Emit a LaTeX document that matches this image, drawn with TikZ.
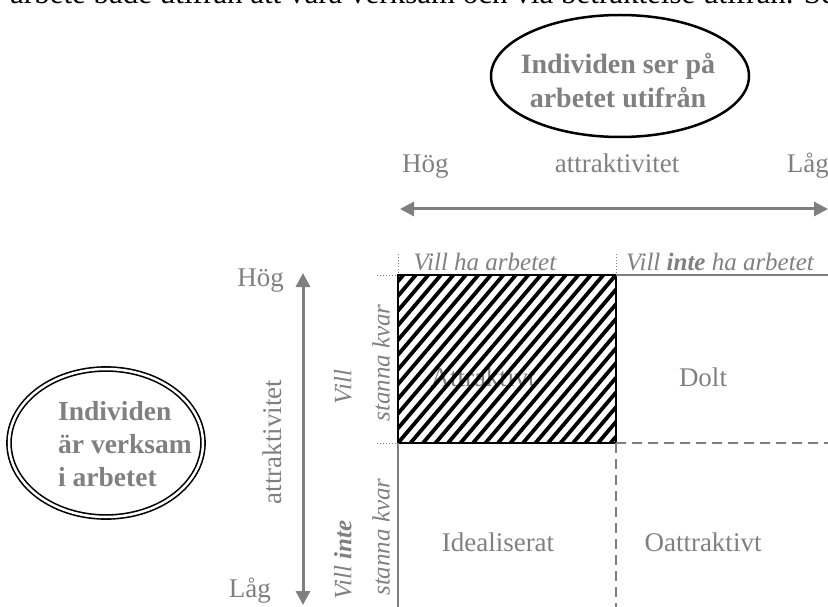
\documentclass[tikz,border=0pt]{standalone}
\usepackage{fontspec}
\setmainfont{Liberation Serif}
\usetikzlibrary{arrows.meta,shapes.geometric}
\definecolor{txtgray}{HTML}{808080}
\definecolor{linegray}{HTML}{7F7F7F}
\begin{document}
\begin{tikzpicture}[x=1pt,y=-1pt,
  lbl/.style={text=txtgray, inner sep=0pt, font=\fontsize{27}{30}\selectfont},
  head/.style={text=txtgray, inner sep=0pt, font=\itshape\fontsize{25}{28}\selectfont},
  bubble/.style={draw=black, ellipse, inner sep=0pt},
  bubbletext/.style={text=txtgray, inner sep=0pt},
  axis/.style={draw=linegray, line width=3pt, {Triangle[length=14pt,width=14pt]}-{Triangle[length=14pt,width=14pt]}},
  grayline/.style={draw=linegray, line width=2pt},
  grid/.style={draw=linegray, line width=2pt, dash pattern=on 10pt off 6pt},
  guide/.style={draw=linegray, line width=1pt, dotted},
]
\useasboundingbox (0,0) rectangle (828,607);
\clip (0,0) rectangle (828,607);

% running text of the page above the figure
\node[anchor=base west, inner sep=0pt, font=\fontsize{31}{34}\selectfont] (para) at (10,4)
  {arbete både utifrån att vara verksam och via betraktelse utifrån. Se};

% viewpoint bubbles
\node[bubble, line width=2.5pt, minimum width=258pt, minimum height=122pt] (outside) at (620,76) {};
\node[bubbletext, align=center, font=\bfseries\fontsize{28}{34}\selectfont] (outsidetxt) at (618,81)
  {Individen ser på\\arbetet utifrån};
\node[bubble, double, line width=1.6pt, double distance=2.5pt, minimum width=194pt,
      minimum height=148pt] (inside) at (106,443) {};
\node[bubbletext, anchor=west, align=left, font=\bfseries\fontsize{27.5}{33}\selectfont] (insidetxt) at (58,444)
  {Individen\\är verksam\\i arbetet};

% horizontal attractiveness axis
\coordinate (hl) at (400,209);
\coordinate (hr) at (828,209);
\draw[axis] (hl) -- (hr);
\node[lbl, anchor=base west] (hhog) at (402,173) {Hög};
\node[lbl, anchor=base] (hattr) at (617,173) {attraktivitet};
\node[lbl, anchor=base east] (hlag) at (829,173) {Låg};

% vertical attractiveness axis
\coordinate (vt) at (303,273);
\coordinate (vb) at (303,605);
\draw[axis] (vt) -- (vb);
\node[lbl, anchor=base east] (vhog) at (284,286) {Hög};
\node[lbl, anchor=base east] (vlag) at (271,597) {Låg};
\node[lbl, rotate=90] (vattr) at (272,442) {attraktivitet};

% quadrant corners
\coordinate (tl) at (398,275);
\coordinate (tm) at (616,275);
\coordinate (tr) at (828,275);
\coordinate (ml) at (398,443);
\coordinate (mm) at (616,443);
\coordinate (mr) at (828,443);
\coordinate (bl) at (398,607);
\coordinate (bm) at (616,607);

% column and row headings
\node[head] (want) at (485,262) {Vill ha arbetet};
\node[head] (nowant) at (720,262) {Vill \textbf{inte} ha arbetet};
\node[head, rotate=90] (stay1) at (343,387) {Vill};
\node[head, rotate=90] (stay2) at (381,363) {stanna kvar};
\node[head, rotate=90] (leave1) at (343,560) {Vill \textbf{inte}};
\node[head, rotate=90] (leave2) at (381,537) {stanna kvar};

% guide ticks
\draw[guide] (377,275) -- (tl);
\draw[guide] (377,443) -- (ml);
\draw[guide] (398,254) -- (tl);
\draw[guide] (616,254) -- (tm);

% quadrant labels
\node[lbl] (q1) at (483,377) {Attraktivt};
\node[lbl] (q2) at (703,377) {Dolt};
\node[lbl] (q3) at (498,542) {Idealiserat};
\node[lbl] (q4) at (703,542) {Oattraktivt};

% hatched quadrant
\begin{scope}
  \clip (tl) rectangle (mm);
  \foreach \i in {-15,...,19}
    \draw[line width=3.8pt] (398+\i*12.5,443) -- ++(170,-200);
\end{scope}
\draw[line width=2.5pt] (tl) rectangle (mm);

% remaining quadrant borders
\draw[grayline] (tm) -- (tr);
\draw[grid] (mm) -- (mr);
\draw[grayline] (ml) -- (bl);
\draw[grid] (mm) -- (bm);
\end{tikzpicture}
\end{document}
